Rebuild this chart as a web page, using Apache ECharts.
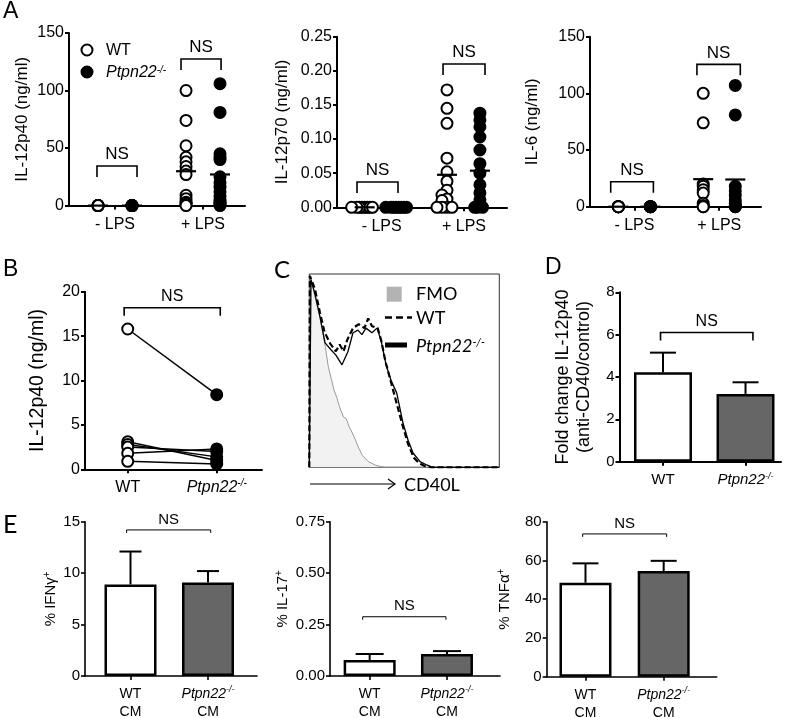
<!DOCTYPE html>
<html><head><meta charset="utf-8">
<script src="https://cdn.jsdelivr.net/npm/echarts@6/dist/echarts.min.js"></script>
<style>html,body{margin:0;padding:0;background:#fff}#c{width:792px;height:718px}</style>
</head><body><div id="c"></div>
<script>
// ================= DATA =================
const groupsA = ['- LPS', '+ LPS'];
const genotypes = ['WT', 'Ptpn22-/-'];
// Panel A: IL-12p40 (ng/ml)
const il12p40_noLPS_WT = [0, 0, 0, 0, 0, 0];
const il12p40_noLPS_KO = [0, 0, 0, 0, 0, 0];
const il12p40_LPS_WT = [100, 74, 52, 42, 38, 34, 30, 27, 9, 6, 3, 2, 1, 0];
const il12p40_LPS_KO = [106, 81, 45, 42, 40, 25, 20, 16, 12, 8, 5, 3, 2, 1, 0];
// Panel A: IL-12p70 (ng/ml)
const il12p70_noLPS_WT = [0, 0, 0, 0, 0, 0, 0, 0];
const il12p70_noLPS_KO = [0, 0, 0, 0, 0, 0, 0, 0];
const il12p70_LPS_WT = [0.172, 0.145, 0.123, 0.072, 0.052, 0.038, 0.025, 0.018, 0.012, 0.010, 0, 0, 0, 0];
const il12p70_LPS_KO = [0.138, 0.128, 0.118, 0.103, 0.084, 0.064, 0.050, 0.033, 0.021, 0.011, 0.001, 0, 0, 0];
// Panel A: IL-6 (ng/ml)
const il6_noLPS_WT = [0, 0, 0, 0, 0, 0];
const il6_noLPS_KO = [0, 0, 0, 0, 0, 0];
const il6_LPS_WT = [100, 74, 20, 18, 15, 12, 3, 1, 0, 0];
const il6_LPS_KO = [107, 81, 18, 14, 10, 6, 3, 1, 0, 0];
// Panel B: paired IL-12p40 (ng/ml)
const pairedWT = [15.8, 3.1, 2.8, 2.5, 1.8, 0.9];
const pairedKO = [8.4, 1.0, 1.4, 2.0, 2.3, 0.6];
// Panel C: CD40L histograms [intensity %, count %]
const histFMO = [[0,0],[0.4,97],[1.5,95],[3,88],[5.5,78],[7,70],[8.5,62],[10,52],[11.5,46],[13,40],[14.5,36],[16,31],[18,26],[19.5,25],[21,21],[23.5,16],[26,10],[28,6],[31,3],[35,1],[40,0],[100,0]];
const histWT = [[0,0],[0.3,99],[1.5,96],[3,92],[5.6,80],[8,70],[11,64],[14,60],[16,63.5],[18,60],[20,66],[23,72],[26,74],[29,72],[31,77],[33,73],[36,72],[38,65],[40,55],[43,44],[46,33],[49,22],[52,12],[55,5],[58,2],[61,0.5],[64,0],[100,0]];
const histKO = [[0,0],[0.9,97],[3,89.6],[5.6,78],[8.3,64.4],[11.4,60.8],[14,58],[17.2,53],[20.3,59.8],[23,69.6],[25.6,71],[27.7,68.6],[29.8,72],[33,69.6],[35.6,72],[37.7,66],[40.4,53],[43,45],[46,38.5],[49.3,23],[52,14],[54.6,7.4],[58.3,2.9],[61.8,1.2],[65,0],[100,0]];
// Panel D: fold change IL-12p40 (mean, SEM)
const foldMean = [4.22, 3.2];
const foldSEM = [0.93, 0.55];
// Panel E: % positive (mean, SEM)
const ifngMean = [8.9, 9.1];
const ifngSEM = [3.2, 1.1];
const il17Mean = [0.078, 0.107];
const il17SEM = [0.029, 0.014];
const tnfMean = [48.5, 54.5];
const tnfSEM = [10.0, 5.3];
// significance brackets: [x from, x to, height]
const brA1 = [[-0.205, 0.25, 34.4], [0.75, 1.205, 127.4]];
const brA2 = [[-0.30, 0.198, 0.037], [0.745, 1.255, 0.21]];
const brA3 = [[-0.279, 0.224, 22], [0.737, 1.248, 125.6]];
const brB = [[-0.04, 1.04, 18.2]];
const brD = [[-0.03, 1.09, 6.1]];
const brE1 = [[-0.05, 1.035, 14.2]];
const brE2 = [[-0.09, 0.987, 0.288]];
const brE3 = [[-0.036, 1.038, 73.7]];

// ================= LAYOUT / STYLE =================
const ARIAL = '"Liberation Sans", Arial, sans-serif';
const CAL = 'Lato, "Open Sans", sans-serif';
const richKO = (fs) => ({
  i: {fontStyle: 'italic', fontSize: fs, fontFamily: ARIAL, color: '#000'},
  s: {fontStyle: 'italic', fontSize: Math.round(fs * 0.62), fontFamily: ARIAL, color: '#000', verticalAlign: 'top'}
});

const grids = [], xAxes = [], yAxes = [], series = [];

function addPanel(p) {
  const gi = grids.length;
  grids.push({left: p.left, top: p.top, width: p.width, height: p.height, containLabel: false,
    outerBoundsMode: 'none', show: !!p.box, borderColor: '#333', borderWidth: 1, backgroundColor: 'transparent'});
  if (p.box) {
    xAxes.push({gridIndex: gi, type: 'value', min: 0, max: 100, show: false});
    yAxes.push({gridIndex: gi, type: 'value', min: 0, max: 100, show: false});
    return gi;
  }
  const ax = {color: '#000', width: p.lw};
  xAxes.push({
    gridIndex: gi, type: 'value', min: p.xmin, max: p.xmax,
    axisLine: {show: true, onZero: false, lineStyle: ax},
    axisTick: {show: true, customValues: [0, 1], length: 4, lineStyle: ax},
    axisLabel: {show: true, customValues: [0, 1], margin: p.xMargin, color: '#000',
      fontSize: p.xfs, fontFamily: ARIAL, lineHeight: p.xlh || p.xfs + 2,
      formatter: v => p.xlabels[Math.round(v)], rich: richKO(p.xfs)},
    splitLine: {show: false}
  });
  yAxes.push({
    gridIndex: gi, type: 'value', min: 0, max: p.ymax, interval: p.yint,
    axisLine: {show: true, onZero: false, lineStyle: ax},
    axisTick: {show: true, length: 4, lineStyle: ax},
    axisLabel: {margin: 5, color: '#000', fontSize: p.yfs, fontFamily: ARIAL,
      formatter: v => v.toFixed(p.dec)},
    splitLine: {show: false},
    name: p.yname, nameLocation: 'middle', nameRotate: 90, nameGap: p.nameGap,
    nameTextStyle: {color: '#000', fontSize: p.nfs, fontFamily: ARIAL, lineHeight: p.nlh || p.nfs + 2,
      rich: {s: {fontSize: Math.round(p.nfs * 0.65), fontFamily: ARIAL, color: '#000', verticalAlign: 'top'}}}
  });
  return gi;
}

function bracket(gi, data, leg, fs, lw) {
  series.push({
    type: 'custom', xAxisIndex: gi, yAxisIndex: gi, data: data, encode: {x: [0, 1], y: 2},
    silent: true, z: 5, clip: false,
    renderItem: (params, api) => {
      const a = api.coord([api.value(0), api.value(2)]);
      const b = api.coord([api.value(1), api.value(2)]);
      return {type: 'group', children: [
        {type: 'polyline', shape: {points: [[a[0], a[1] + leg], [a[0], a[1]], [b[0], b[1]], [b[0], b[1] + leg]]},
          style: {stroke: '#000', lineWidth: lw, fill: null}},
        {type: 'text', x: (a[0] + b[0]) / 2, y: a[1] - 3,
          style: {text: 'NS', fill: '#000', fontSize: fs, fontFamily: ARIAL, align: 'center', verticalAlign: 'bottom'}}
      ]};
    }
  });
}

function errorBars(gi, means, sems, cap, lw) {
  series.push({
    type: 'custom', xAxisIndex: gi, yAxisIndex: gi, silent: true, z: 3, clip: false,
    data: means.map((m, i) => [i, m, m + sems[i]]), encode: {x: 0, y: [1, 2]},
    renderItem: (params, api) => {
      const a = api.coord([api.value(0), api.value(1)]);
      const b = api.coord([api.value(0), api.value(2)]);
      return {type: 'group', children: [
        {type: 'line', shape: {x1: a[0], y1: a[1], x2: b[0], y2: b[1]}, style: {stroke: '#000', lineWidth: lw}},
        {type: 'line', shape: {x1: b[0] - cap / 2, y1: b[1], x2: b[0] + cap / 2, y2: b[1]}, style: {stroke: '#000', lineWidth: lw}}
      ]};
    }
  });
}

function bars(gi, means, width, bw) {
  const fills = ['#ffffff', '#666666'];
  series.push({
    type: 'bar', xAxisIndex: gi, yAxisIndex: gi, barWidth: width, silent: true, z: 2,
    data: means.map((m, i) => ({value: [i, m], itemStyle: {color: fills[i], borderColor: '#000', borderWidth: bw, opacity: 1}}))
  });
}

// beeswarm offsets in px
function swarm(values, pxPerY, minDist, step) {
  const placed = [];
  return values.map(v => {
    const y = v * pxPerY;
    for (let k = 0; k < 200; k++) {
      const dx = (k % 2 === 1 ? -1 : 1) * Math.ceil(k / 2) * step;
      if (placed.every(p => Math.hypot(p[0] - dx, p[1] - y) >= minDist)) { placed.push([dx, y]); return dx; }
    }
    return 0;
  });
}

function dots(gi, x, values, filled, jitter, pxPerX) {
  const offs = jitter ? jitter(values) : values.map(() => 0);
  series.push({
    type: 'scatter', xAxisIndex: gi, yAxisIndex: gi, clip: false, silent: true, z: 4,
    symbol: 'circle', symbolSize: 11,
    itemStyle: {color: filled ? '#000' : '#fff', borderColor: '#000', borderWidth: 2, opacity: 1},
    data: values.map((v, i) => [x + offs[i] / pxPerX, v])
  });
  const mean = values.reduce((s, v) => s + v, 0) / values.length;
  series.push({
    type: 'scatter', xAxisIndex: gi, yAxisIndex: gi, clip: false, silent: true, z: 6,
    symbol: 'rect', symbolSize: [20, 2.2], itemStyle: {color: '#000', opacity: 1}, data: [[x, mean]]
  });
}

// ---------- Panel A ----------
const aCommon = {lw: 2, xfs: 16, yfs: 16, nfs: 17, xMargin: 10, xlabels: groupsA};
const gA1 = addPanel(Object.assign({left: 69, top: 33, width: 176, height: 172.6, xmin: -0.523, xmax: 1.477,
  ymax: 150, yint: 50, dec: 0, yname: 'IL-12p40 (ng/ml)', nameGap: 37}, aCommon));
const gA2 = addPanel(Object.assign({left: 337, top: 36.7, width: 170, height: 170.6, xmin: -0.543, xmax: 1.522,
  ymax: 0.25, yint: 0.05, dec: 2, yname: 'IL-12p70 (ng/ml)', nameGap: 45}, aCommon));
const gA3 = addPanel(Object.assign({left: 590, top: 36.7, width: 171, height: 170, xmin: -0.523, xmax: 1.492,
  ymax: 150, yint: 50, dec: 0, yname: 'IL-6 (ng/ml)', nameGap: 48}, aCommon));

dots(gA1, -0.193, il12p40_noLPS_WT, false, null, 88);
dots(gA1, 0.193, il12p40_noLPS_KO, true, null, 88);
dots(gA1, 0.807, il12p40_LPS_WT, false, null, 88);
dots(gA1, 1.193, il12p40_LPS_KO, true, null, 88);
const sw2 = vals => swarm(vals, 170.6 / 0.25, 2.6, 2.6);
dots(gA2, -0.207, il12p70_noLPS_WT, false, sw2, 82.3);
dots(gA2, 0.207, il12p70_noLPS_KO, true, sw2, 82.3);
dots(gA2, 0.793, il12p70_LPS_WT, false, vals => swarm(vals, 170.6 / 0.25, 5, 5), 82.3);
dots(gA2, 1.193, il12p70_LPS_KO, true, sw2, 82.3);
dots(gA3, -0.189, il6_noLPS_WT, false, null, 84.7);
dots(gA3, 0.189, il6_noLPS_KO, true, null, 84.7);
dots(gA3, 0.811, il6_LPS_WT, false, null, 84.7);
dots(gA3, 1.189, il6_LPS_KO, true, null, 84.7);
bracket(gA1, brA1, 11, 17, 1.6);
bracket(gA2, brA2, 11, 17, 1.6);
bracket(gA3, brA3, 11, 17, 1.6);

// ---------- Panel B ----------
const koLabel = '{i|Ptpn22}{s|-/-}';
const gB = addPanel({left: 85, top: 291.7, width: 177, height: 177.6, xmin: -0.48, xmax: 1.509,
  ymax: 20, yint: 5, dec: 0, yname: 'IL-12p40 (ng/ml)', nameGap: 37, lw: 2, xfs: 16, yfs: 16, nfs: 19.5,
  xMargin: 9, xlabels: ['WT', koLabel]});
pairedWT.forEach((w, i) => series.push({type: 'line', xAxisIndex: gB, yAxisIndex: gB, silent: true, z: 2,
  symbol: 'none', lineStyle: {color: '#000', width: 1.5}, data: [[0, w], [1, pairedKO[i]]]}));
series.push({type: 'scatter', xAxisIndex: gB, yAxisIndex: gB, clip: false, silent: true, z: 4, symbolSize: 11,
  itemStyle: {color: '#fff', borderColor: '#000', borderWidth: 2, opacity: 1}, data: pairedWT.map(v => [0, v])});
series.push({type: 'scatter', xAxisIndex: gB, yAxisIndex: gB, clip: false, silent: true, z: 4, symbolSize: 11,
  itemStyle: {color: '#000', borderColor: '#000', borderWidth: 2, opacity: 1}, data: pairedKO.map(v => [1, v])});
bracket(gB, brB, 8, 16, 1.6);

// ---------- Panel C ----------
const gC = addPanel({left: 309.3, top: 274, width: 190, height: 193.3, box: true});
series.push({type: 'line', xAxisIndex: gC, yAxisIndex: gC, silent: true, symbol: 'none', z: 2,
  lineStyle: {color: '#999', width: 1}, areaStyle: {color: '#f2f2f2', opacity: 1}, data: histFMO});
series.push({type: 'line', xAxisIndex: gC, yAxisIndex: gC, silent: true, symbol: 'none', z: 3,
  lineStyle: {color: '#000', width: 1.3}, data: histKO});
series.push({type: 'line', xAxisIndex: gC, yAxisIndex: gC, silent: true, symbol: 'none', z: 4,
  lineStyle: {color: '#000', width: 2.2, type: [6, 3]}, data: histWT});

// ---------- Panel D ----------
const gD = addPanel({left: 619.5, top: 292.3, width: 161.5, height: 169.4, xmin: -0.527, xmax: 1.43,
  ymax: 8, yint: 2, dec: 0, yname: 'Fold change IL-12p40\n(anti-CD40/control)', nameGap: 25, nlh: 21,
  lw: 2, xfs: 15, yfs: 15, nfs: 18, xMargin: 10, xlabels: ['WT', koLabel]});
bars(gD, foldMean, 58, 2.5);
errorBars(gD, foldMean, foldSEM, 26, 2);
bracket(gD, brD, 8, 16, 1.6);

// ---------- Panel E ----------
const eCommon = {lw: 1.6, xfs: 14, yfs: 15, nfs: 15, xMargin: 9, xlh: 18, dec: 0,
  xlabels: ['WT\nCM', koLabel + '\nCM']};
const gE1 = addPanel(Object.assign({left: 85, top: 521.7, width: 172, height: 154.3, xmin: -0.587, xmax: 1.632,
  ymax: 15, yint: 5, yname: '% IFNγ{s|+}', nameGap: 24}, eCommon));
const gE2 = addPanel(Object.assign({}, eCommon, {left: 330, top: 521.7, width: 170, height: 154.3, xmin: -0.513, xmax: 1.686,
  ymax: 0.75, yint: 0.25, dec: 2, yname: '% IL-17{s|+}', nameGap: 39}));
const gE3 = addPanel(Object.assign({left: 546.7, top: 521.7, width: 170, height: 155, xmin: -0.496, xmax: 1.678,
  ymax: 80, yint: 20, yname: '% TNFα{s|+}', nameGap: 33}, eCommon));
bars(gE1, ifngMean, 52, 2.5); errorBars(gE1, ifngMean, ifngSEM, 22, 2);
bars(gE2, il17Mean, 52, 2.5); errorBars(gE2, il17Mean, il17SEM, 28, 2);
bars(gE3, tnfMean, 52, 2.5); errorBars(gE3, tnfMean, tnfSEM, 26, 2);
bracket(gE1, brE1, 3, 15, 1);
bracket(gE2, brE2, 3, 15, 1);
bracket(gE3, brE3, 3, 15, 1);

// ---------- Decorations (panel letters, legends, arrow) ----------
const txt = (x, y, text, fs, fam, extra) => ({type: 'text', x: x, y: y,
  style: Object.assign({text: text, fill: '#000', fontSize: fs, fontFamily: fam, verticalAlign: 'middle'}, extra || {})});
const graphic = [
  txt(3, 12, 'A', 23, ARIAL), txt(3, 270, 'B', 23, ARIAL), txt(274, 270, 'C', 24, CAL),
  txt(545, 268, 'D', 23, ARIAL), txt(3, 525, 'E', 25, CAL),
  // legend A
  {type: 'circle', shape: {cx: 87, cy: 50, r: 5.5}, style: {fill: '#fff', stroke: '#000', lineWidth: 2}},
  {type: 'circle', shape: {cx: 87, cy: 72, r: 5.5}, style: {fill: '#000', stroke: '#000', lineWidth: 2}},
  txt(106, 51, 'WT', 16, ARIAL),
  {type: 'text', x: 106, y: 73, style: {text: koLabel, fontSize: 16, fontFamily: ARIAL, verticalAlign: 'middle', rich: richKO(16)}},
  // legend C
  {type: 'rect', shape: {x: 386.7, y: 286.7, width: 15, height: 15}, style: {fill: '#b3b3b3'}},
  txt(416, 294, 'FMO', 18, CAL),
  {type: 'line', shape: {x1: 385, y1: 317.5, x2: 412, y2: 317.5}, style: {stroke: '#000', lineWidth: 2.5, lineDash: [7, 4]}},
  txt(416, 318, 'WT', 18, CAL),
  {type: 'line', shape: {x1: 385, y1: 345, x2: 407, y2: 345}, style: {stroke: '#000', lineWidth: 5}},
  {type: 'text', x: 416, y: 346, style: {text: '{i|Ptpn22}{s|-/-}', verticalAlign: 'middle',
    rich: {i: {fontStyle: 'italic', fontSize: 18, fontFamily: CAL, color: '#000'},
           s: {fontStyle: 'italic', fontSize: 11, fontFamily: CAL, color: '#000', verticalAlign: 'top'}}}},
  // arrow C
  {type: 'line', shape: {x1: 310, y1: 484, x2: 395, y2: 484}, style: {stroke: '#000', lineWidth: 1.2}},
  {type: 'polyline', shape: {points: [[388, 479], [395, 484], [388, 489]]}, style: {stroke: '#000', lineWidth: 1.2, fill: null}},
  txt(404, 485, 'CD40L', 18, CAL)
];

const chart = echarts.init(document.getElementById('c'), null, {renderer: 'canvas'});
chart.setOption({
  animation: false, backgroundColor: '#fff',
  grid: grids, xAxis: xAxes, yAxis: yAxes, series: series, graphic: graphic
});
</script></body></html>
